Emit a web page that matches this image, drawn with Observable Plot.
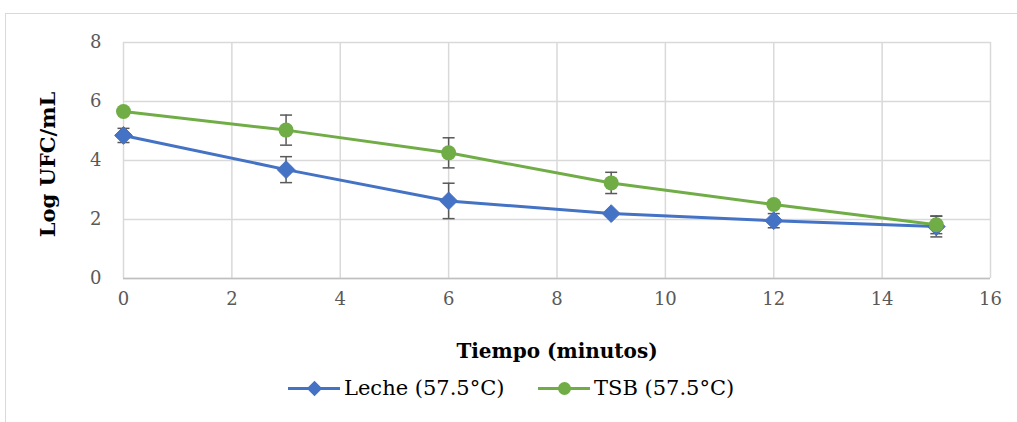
<!DOCTYPE html>
<html>
<head>
<meta charset="utf-8">
<script src="https://cdn.jsdelivr.net/npm/d3@7"></script>
<script src="https://cdn.jsdelivr.net/npm/@observablehq/plot@0.6"></script>
<style>
  html, body { margin: 0; padding: 0; background: #fff; }
  body { width: 1017px; height: 422px; position: relative; overflow: hidden; font-family: "DejaVu Serif", serif; }
  #frame { position: absolute; left: 5px; top: 13px; width: 1030px; height: 430px; border: 1px solid #d9d9d9; box-sizing: border-box; }
  #chart { position: absolute; left: 0; top: 0; }
  #legend { position: absolute; top: 371px; left: 0; width: 1017px; height: 34px; }
  .item { position: absolute; top: 0; display: flex; align-items: center; font-size: 21px; color: #000; font-family: "DejaVu Serif", serif; }
  .item span { font-family: "DejaVu Serif", serif; }
  .item svg { margin-right: 4px; }
</style>
</head>
<body>
<div id="frame"></div>
<div id="chart"></div>
<div id="legend"></div>
<script>
const times = [0, 3, 6, 9, 12, 15];
const lecheMean = [4.85, 3.69, 2.63, 2.2, 1.96, 1.76];
const lecheErr  = [0.24, 0.44, 0.6, 0.06, 0.24, 0.35];
const tsbMean   = [5.66, 5.03, 4.26, 3.24, 2.51, 1.82];
const tsbErr    = [0.04, 0.51, 0.51, 0.36, 0.05, 0.3];
const seriesNames = ["Leche (57.5°C)", "TSB (57.5°C)"];
const seriesColors = ["#4472c4", "#70ad47"];
const xTicks = [0, 2, 4, 6, 8, 10, 12, 14, 16];
const yTicks = [0, 2, 4, 6, 8];

const rows = [];
times.forEach((t, i) => {
  rows.push({series: seriesNames[0], t, v: lecheMean[i], e: lecheErr[i]});
  rows.push({series: seriesNames[1], t, v: tsbMean[i], e: tsbErr[i]});
});
const leche = rows.filter(d => d.series === seriesNames[0]);
const tsb = rows.filter(d => d.series === seriesNames[1]);

const capSymbol = { draw(ctx, size) { ctx.moveTo(-6, 0); ctx.lineTo(6, 0); } };

const chart = Plot.plot({
  width: 1017,
  height: 365,
  marginLeft: 123,
  marginRight: 27,
  marginTop: 42,
  marginBottom: 87,
  style: { fontFamily: "DejaVu Serif, serif", background: "transparent" },
  x: { domain: [0, 16], ticks: xTicks, label: null },
  y: { domain: [0, 8], ticks: yTicks, label: null },
  marks: [
    Plot.gridX(xTicks, { stroke: "#d9d9d9", strokeOpacity: 1, strokeWidth: 1.5 }),
    Plot.gridY(yTicks, { stroke: "#d9d9d9", strokeOpacity: 1, strokeWidth: 1.5 }),
    Plot.ruleY([0], { stroke: "#bfbfbf", strokeWidth: 1.5 }),
    Plot.axisX({ ticks: xTicks, tickSize: 0, tickPadding: 14, fontSize: 18, fill: "#595959", label: null }),
    Plot.axisY({ ticks: yTicks, tickSize: 0, tickPadding: 22, fontSize: 18, fill: "#595959", label: null }),
    Plot.text(["Tiempo (minutos)"], { frameAnchor: "bottom", dy: 79, fontSize: 20, fontWeight: "bold", fill: "#000" }),
    Plot.text(["Log UFC/mL"], { frameAnchor: "left", textAnchor: "middle", dx: -75, dy: 4, rotate: -90, fontSize: 21, fontWeight: "bold", fill: "#000" }),
    Plot.line(leche, { x: "t", y: "v", stroke: seriesColors[0], strokeWidth: 3 }),
    Plot.line(tsb, { x: "t", y: "v", stroke: seriesColors[1], strokeWidth: 3 }),
    Plot.ruleX(rows, { x: "t", y1: d => d.v - d.e, y2: d => d.v + d.e, stroke: "#595959", strokeWidth: 1.5 }),
    Plot.dot(rows, { x: "t", y: d => d.v - d.e, symbol: capSymbol, stroke: "#595959", strokeWidth: 1.5, r: 5, fill: "none" }),
    Plot.dot(rows, { x: "t", y: d => d.v + d.e, symbol: capSymbol, stroke: "#595959", strokeWidth: 1.5, r: 5, fill: "none" }),
    Plot.dot(leche, { x: "t", y: "v", symbol: "diamond2", r: 8, fill: seriesColors[0], stroke: "#4a6fbf", strokeWidth: 1 }),
    Plot.dot(tsb, { x: "t", y: "v", symbol: "circle", r: 7.5, fill: seriesColors[1], stroke: "none" })
  ]
});
document.getElementById("chart").appendChild(chart);

// legend
const legend = document.getElementById("legend");
const lefts = [288, 538];
const symbols = ["diamond2", "circle"];
seriesNames.forEach((name, i) => {
  const item = document.createElement("div");
  item.className = "item";
  item.style.left = lefts[i] + "px";
  const sw = Plot.plot({
    width: 52, height: 34, margin: 0,
    x: { domain: [0, 1], axis: null }, y: { domain: [0, 1], axis: null },
    style: { background: "transparent" },
    marks: [
      Plot.ruleY([0.5], { x1: 0, x2: 1, stroke: seriesColors[i], strokeWidth: 3 }),
      Plot.dot([0.5], { x: d => d, y: 0.5, symbol: symbols[i], r: i === 0 ? 7 : 6.5, fill: seriesColors[i] })
    ]
  });
  item.appendChild(sw);
  const span = document.createElement("span");
  span.textContent = name;
  item.appendChild(span);
  legend.appendChild(item);
});
</script>
</body>
</html>
